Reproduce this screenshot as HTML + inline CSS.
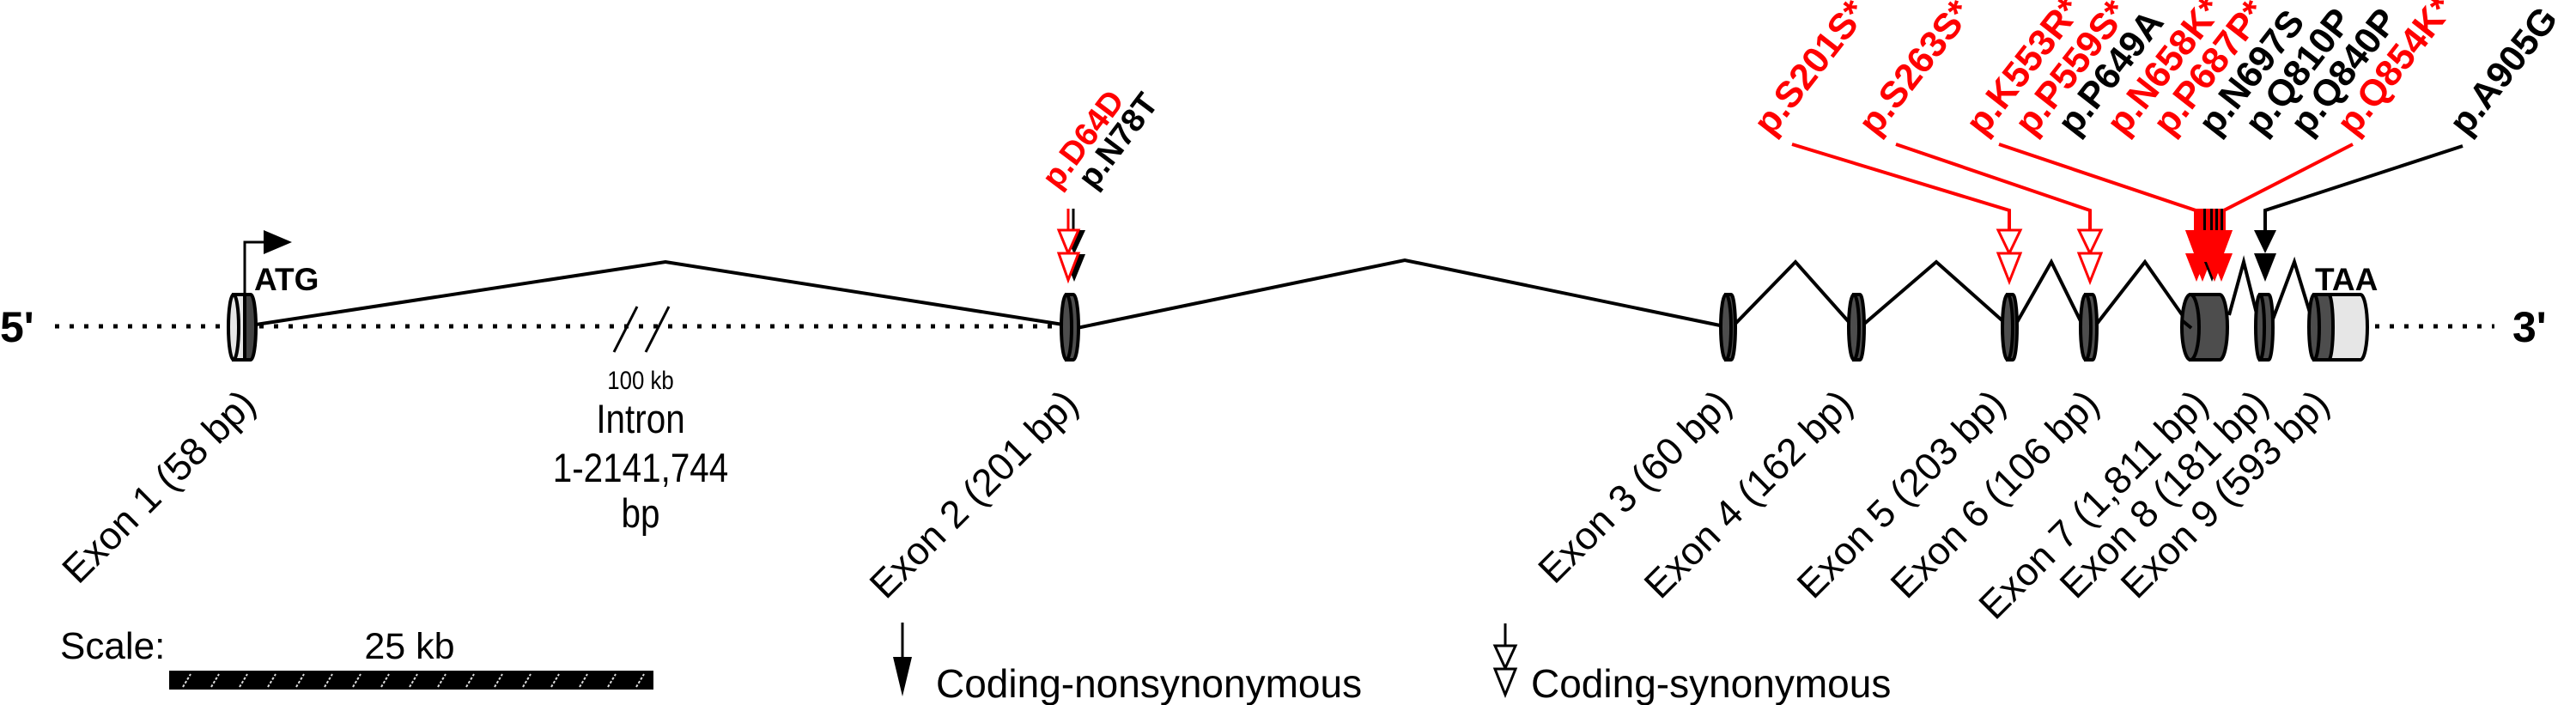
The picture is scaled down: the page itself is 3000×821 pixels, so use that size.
<!DOCTYPE html>
<html><head><meta charset="utf-8"><style>
html,body{margin:0;padding:0;background:#fff;}
svg{display:block;}
text{font-family:"Liberation Sans",Arial,sans-serif;}
</style></head><body>
<svg width="3000" height="821" viewBox="0 0 3000 821" xmlns="http://www.w3.org/2000/svg">
<g stroke="#000" stroke-width="5" stroke-dasharray="5 12" fill="none">
<line x1="64" y1="380" x2="1236" y2="380"/>
<line x1="2766" y1="380" x2="2905" y2="380"/>
</g>
<text x="0" y="398" font-size="50" font-weight="bold">5'</text>
<text x="2926" y="398" font-size="50" font-weight="bold">3'</text>
<g stroke="#000" stroke-width="3">
<line x1="715" y1="410" x2="742" y2="357"/>
<line x1="752" y1="410" x2="779" y2="357"/>
</g>
<g stroke="#000" stroke-width="4" fill="none">
<polyline points="298,378 775,305 1238,378"/>
<polyline points="1254,382 1636,303 2008,380"/>
<polyline points="2020,378 2091,305 2155,377"/>
<polyline points="2170,378 2255,305 2336,377"/>
<polyline points="2348,377 2389,305 2426,380"/>
<polyline points="2442,377 2498,305 2552,382"/>
<polyline points="2596,367 2613,305 2631,377"/>
<polyline points="2645,377 2672,305 2694,377"/>
</g>
<g stroke="#000" stroke-width="4">
<path d="M272,343 L292,343 A6,38 0 0 1 292,419 L272,419 Z" fill="#444"/>
<path d="M272,343 L285,343 L285,419 L272,419 Z" fill="#e6e6e6"/>
<ellipse cx="272" cy="381" rx="6" ry="38" fill="#e6e6e6"/>
<path d="M1242,343 L1250,343 A6,38 0 0 1 1250,419 L1242,419 Z" fill="#4d4d4d"/>
<ellipse cx="1242" cy="381" rx="6" ry="38" fill="#4d4d4d"/>
<path d="M2010,343 L2016,343 A5,38 0 0 1 2016,419 L2010,419 Z" fill="#4d4d4d"/>
<ellipse cx="2010" cy="381" rx="6" ry="38" fill="#4d4d4d"/>
<path d="M2159,343 L2166,343 A5,38 0 0 1 2166,419 L2159,419 Z" fill="#4d4d4d"/>
<ellipse cx="2159" cy="381" rx="6" ry="38" fill="#4d4d4d"/>
<path d="M2338,343 L2344,343 A5,38 0 0 1 2344,419 L2338,419 Z" fill="#4d4d4d"/>
<ellipse cx="2338" cy="381" rx="6" ry="38" fill="#4d4d4d"/>
<path d="M2429,343 L2437,343 A5,38 0 0 1 2437,419 L2429,419 Z" fill="#4d4d4d"/>
<ellipse cx="2429" cy="381" rx="6" ry="38" fill="#4d4d4d"/>
<path d="M2551,343 L2585,343 A9,38 0 0 1 2585,419 L2551,419 Z" fill="#4d4d4d"/>
<ellipse cx="2551" cy="381" rx="10" ry="38" fill="#4d4d4d"/>
<path d="M2632,343 L2642,343 A5,38 0 0 1 2642,419 L2632,419 Z" fill="#4d4d4d"/>
<ellipse cx="2632" cy="381" rx="5" ry="38" fill="#4d4d4d"/>
<path d="M2710,343 L2749,343 A8,38 0 0 1 2749,419 L2710,419 Z" fill="#e6e6e6"/>
<path d="M2695,343 L2712,343 A5,38 0 0 1 2712,419 L2695,419 Z" fill="#4d4d4d"/>
<ellipse cx="2695" cy="381" rx="6" ry="38" fill="#4d4d4d"/>
</g>
<line x1="2541" y1="373" x2="2552" y2="382" stroke="#000" stroke-width="4"/>
<polyline points="285,343 285,282 309,282" stroke="#000" stroke-width="3" fill="none"/>
<polygon points="307,268 340,282 307,296" fill="#000"/>
<text x="296" y="338" font-size="37" font-weight="bold">ATG</text>
<text x="2696" y="338" font-size="37" font-weight="bold">TAA</text>
<g font-size="47" text-anchor="middle" transform="translate(746,0) scale(0.86,1)">
<text x="0" y="453" font-size="30">100 kb</text>
<text x="0" y="504">Intron</text>
<text x="0" y="561">1-2141,744</text>
<text x="0" y="614">bp</text>
</g>
<g font-size="45" text-anchor="end">
<text transform="translate(300,473) rotate(-45)">Exon 1 (58 bp)</text>
<text transform="translate(1258,473) rotate(-45)">Exon 2 (201 bp)</text>
<text transform="translate(2019,473) rotate(-45)">Exon 3 (60 bp)</text>
<text transform="translate(2160,473) rotate(-45)">Exon 4 (162 bp)</text>
<text transform="translate(2338,473) rotate(-45)">Exon 5 (203 bp)</text>
<text transform="translate(2447,473) rotate(-45)">Exon 6 (106 bp)</text>
<text transform="translate(2574,473) rotate(-45)">Exon 7 (1,811 bp)</text>
<text transform="translate(2644,473) rotate(-45)">Exon 8 (181 bp)</text>
<text transform="translate(2715,473) rotate(-45)">Exon 9 (593 bp)</text>
</g>
<g stroke-width="3">
<line x1="1250" y1="243" x2="1250" y2="268" stroke="#000"/>
<polygon points="1238,268 1264,268 1251,296" fill="#000"/>
<polygon points="1238,296 1264,296 1251,328" fill="#000"/>
<line x1="1244" y1="243" x2="1244" y2="268" stroke="#f00"/>
<polygon points="1233,268 1256,268 1244,295" fill="#fff" stroke="#f00"/>
<polygon points="1233,295 1256,295 1244,326" fill="#fff" stroke="#f00"/>
</g>
<g font-size="38" font-weight="bold">
<text transform="translate(1232,222) rotate(-53)" fill="#f00">p.D64D</text>
<text transform="translate(1274,222) rotate(-53)" fill="#000">p.N78T</text>
</g>
<g fill="none" stroke-width="4">
<polyline points="2087,168 2340,245 2340,268" stroke="#f00"/>
<polyline points="2208,168 2434,245 2434,268" stroke="#f00"/>
<polyline points="2328,168 2557,245 2557,268" stroke="#f00"/>
<polyline points="2740,168 2590,245 2590,268" stroke="#f00"/>
<polyline points="2868,170 2638,245 2638,268" stroke="#000"/>
</g>
<g stroke-width="3">
<polygon points="2327,268 2353,268 2340,295" fill="#fff" stroke="#f00"/>
<polygon points="2327,295 2353,295 2340,328" fill="#fff" stroke="#f00"/>
<polygon points="2421,268 2447,268 2434,295" fill="#fff" stroke="#f00"/>
<polygon points="2421,295 2447,295 2434,328" fill="#fff" stroke="#f00"/>
</g>
<polygon points="2625,268 2651,268 2638,295" fill="#000"/>
<polygon points="2625,295 2651,295 2638,328" fill="#000"/>
<g>
<rect x="2555" y="243" width="36" height="26" fill="#f00"/>
<rect x="2566" y="243" width="3" height="26" fill="#000"/>
<rect x="2574" y="243" width="3" height="26" fill="#000"/>
<rect x="2580" y="243" width="3" height="26" fill="#000"/>
<rect x="2586" y="243" width="3" height="26" fill="#000"/>
<polygon points="2545,268 2600,268 2590,295 2555,295" fill="#f00"/>
<polygon points="2545,295 2571,295 2558,328" fill="#f00"/>
<polygon points="2552,295 2578,295 2565,328" fill="#f00"/>
<polygon points="2563,295 2589,295 2576,328" fill="#000"/>
<polygon points="2566,295 2592,295 2579,328" fill="#f00"/>
<polygon points="2574,295 2600,295 2587,328" fill="#f00"/>
<polygon points="2545,268 2600,268 2586,305 2559,305" fill="#f00"/>
</g>
<g font-size="43" font-weight="bold">
<text transform="translate(2063,160) rotate(-52)" fill="#f00">p.S201S*</text>
<text transform="translate(2185,160) rotate(-52)" fill="#f00">p.S263S*</text>
<text transform="translate(2310,160) rotate(-52)" fill="#f00">p.K553R*</text>
<text transform="translate(2367,160) rotate(-52)" fill="#f00">p.P559S*</text>
<text transform="translate(2417,160) rotate(-52)" fill="#000">p.P649A</text>
<text transform="translate(2474,160) rotate(-52)" fill="#f00">p.N658K*</text>
<text transform="translate(2528,160) rotate(-52)" fill="#f00">p.P687P*</text>
<text transform="translate(2581,160) rotate(-52)" fill="#000">p.N697S</text>
<text transform="translate(2635,160) rotate(-52)" fill="#000">p.Q810P</text>
<text transform="translate(2688,160) rotate(-52)" fill="#000">p.Q840P</text>
<text transform="translate(2742,160) rotate(-52)" fill="#f00">p.Q854K*</text>
<text transform="translate(2873,160) rotate(-52)" fill="#000">p.A905G</text>
</g>
<text x="70" y="767" font-size="44">Scale:</text>
<text x="477" y="767" font-size="43" text-anchor="middle">25 kb</text>
<rect x="197" y="781" width="564" height="22" fill="#000"/>
<g stroke="#ddd" stroke-width="2" stroke-dasharray="3 2">
<line x1="213" y1="800" x2="222" y2="785"/><line x1="246" y1="800" x2="255" y2="785"/>
<line x1="279" y1="800" x2="288" y2="785"/><line x1="312" y1="800" x2="321" y2="785"/>
<line x1="345" y1="800" x2="354" y2="785"/><line x1="378" y1="800" x2="387" y2="785"/>
<line x1="411" y1="800" x2="420" y2="785"/><line x1="444" y1="800" x2="453" y2="785"/>
<line x1="477" y1="800" x2="486" y2="785"/><line x1="510" y1="800" x2="519" y2="785"/>
<line x1="543" y1="800" x2="552" y2="785"/><line x1="576" y1="800" x2="585" y2="785"/>
<line x1="609" y1="800" x2="618" y2="785"/><line x1="642" y1="800" x2="651" y2="785"/>
<line x1="675" y1="800" x2="684" y2="785"/><line x1="708" y1="800" x2="717" y2="785"/>
<line x1="741" y1="800" x2="750" y2="785"/>
</g>
<line x1="1051" y1="725" x2="1051" y2="770" stroke="#000" stroke-width="3"/>
<polygon points="1040,765 1062,765 1051,811" fill="#000"/>
<text x="1090" y="812" font-size="46">Coding-nonsynonymous</text>
<line x1="1753" y1="726" x2="1753" y2="752" stroke="#000" stroke-width="3"/>
<polygon points="1741,752 1765,752 1753,778" fill="#fff" stroke="#000" stroke-width="3"/>
<polygon points="1741,779 1765,779 1753,809" fill="#fff" stroke="#000" stroke-width="3"/>
<text x="1783" y="812" font-size="46">Coding-synonymous</text>
</svg>
</body></html>
